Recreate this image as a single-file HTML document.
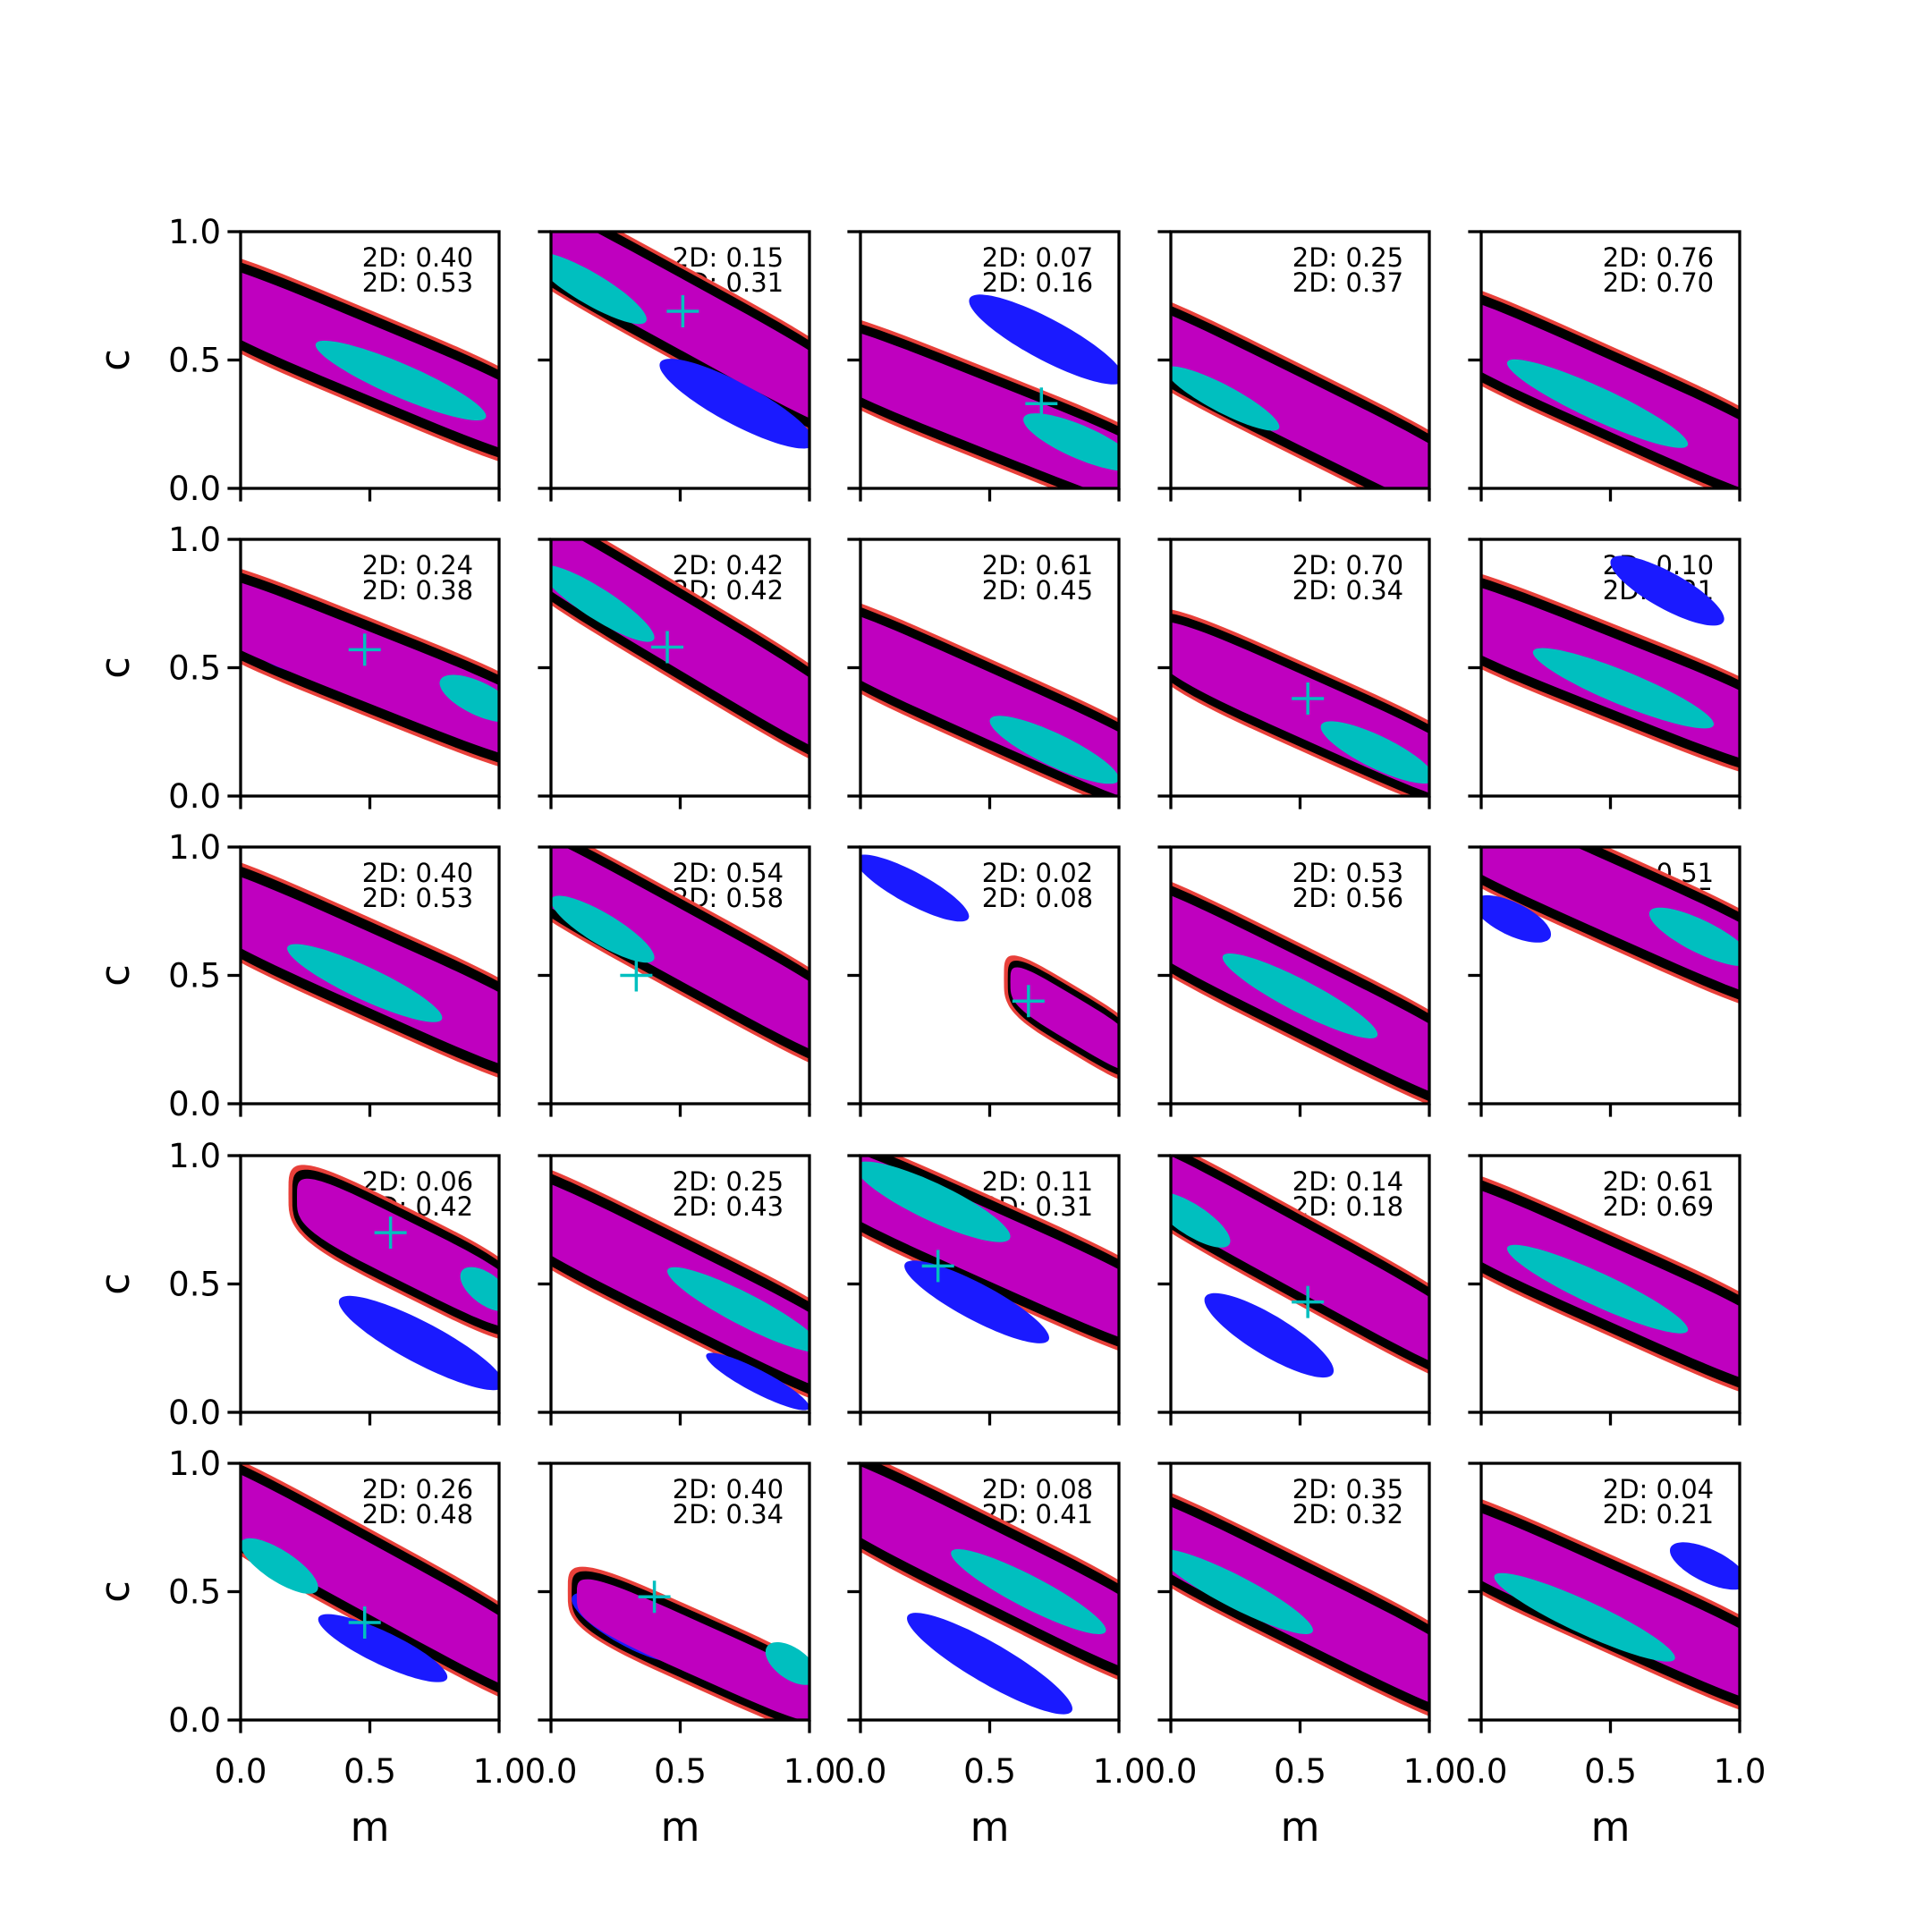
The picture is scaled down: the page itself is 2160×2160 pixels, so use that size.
<!DOCTYPE html>
<html><head><meta charset="utf-8"><style>
html,body{margin:0;padding:0;background:#fff;}
svg{display:block;font-family:"DejaVu Sans","Liberation Sans",sans-serif;}
</style></head><body>
<svg id="fig" width="2160" height="2160" viewBox="0 0 2160 2160" xmlns="http://www.w3.org/2000/svg"></svg>
<script>
// band: [m0, c0, halfLength(m), halfWidth(c), slope]
const bands = [
[0.5,0.5,0.75,0.18,-0.42],[0.5,0.68,0.75,0.18,-0.55],[0.5,0.28,0.75,0.17,-0.4],[0.5,0.3,0.75,0.17,-0.5],[0.5,0.36,0.75,0.18,-0.45],
[0.5,0.5,0.75,0.18,-0.4],[0.5,0.63,0.75,0.18,-0.6],[0.5,0.35,0.75,0.17,-0.45],[0.55,0.33,0.65,0.16,-0.45],[0.5,0.48,0.75,0.18,-0.4],
[0.5,0.52,0.75,0.19,-0.45],[0.5,0.62,0.75,0.18,-0.55],[0.82,0.33,0.25,0.12,-0.6],[0.5,0.43,0.75,0.18,-0.5],[0.5,0.8,0.75,0.18,-0.45],
[0.65,0.62,0.45,0.16,-0.5],[0.5,0.5,0.75,0.19,-0.5],[0.5,0.65,0.75,0.18,-0.45],[0.5,0.6,0.75,0.17,-0.55],[0.5,0.5,0.75,0.19,-0.45],
[0.5,0.55,0.75,0.18,-0.55],[0.58,0.27,0.5,0.14,-0.45],[0.5,0.6,0.75,0.19,-0.5],[0.5,0.45,0.75,0.18,-0.5],[0.5,0.45,0.75,0.18,-0.45]];
// cyan core: [m, c, halfLength, halfWidth]
const cores = [
[0.62,0.42,0.33,0.07],[0.15,0.78,0.22,0.07],[0.85,0.18,0.22,0.07],[0.2,0.35,0.22,0.06],[0.45,0.33,0.35,0.07],
[0.92,0.38,0.15,0.07],[0.18,0.75,0.22,0.07],[0.75,0.18,0.25,0.07],[0.8,0.17,0.22,0.07],[0.55,0.42,0.35,0.07],
[0.48,0.47,0.3,0.07],[0.2,0.68,0.2,0.07],null,[0.5,0.42,0.3,0.07],[0.85,0.65,0.2,0.07],
[0.95,0.48,0.1,0.07],[0.75,0.4,0.3,0.07],[0.28,0.82,0.3,0.08],[0.08,0.75,0.15,0.07],[0.45,0.48,0.35,0.07],
[0.15,0.6,0.15,0.07],[0.93,0.22,0.1,0.07],[0.65,0.5,0.3,0.07],[0.25,0.5,0.3,0.07],[0.4,0.4,0.35,0.07]];
// blue cloud: [m, c, halfLength, halfWidth, slope]
const blues = [
null,[0.72,0.33,0.3,0.09,-0.5],[0.72,0.58,0.3,0.09,-0.5],null,null,
[0.15,0.58,0.18,0.08,-0.4],null,null,null,[0.72,0.8,0.22,0.08,-0.5],
null,null,[0.2,0.84,0.22,0.07,-0.5],null,[0.12,0.72,0.15,0.07,-0.4],
[0.7,0.27,0.32,0.09,-0.5],[0.8,0.12,0.2,0.05,-0.5],[0.45,0.43,0.28,0.08,-0.5],[0.38,0.3,0.25,0.09,-0.55],null,
[0.55,0.28,0.25,0.07,-0.45],[0.3,0.36,0.22,0.08,-0.5],[0.5,0.22,0.32,0.09,-0.55],null,[0.88,0.6,0.15,0.07,-0.4]];
// cross markers [m, c]
const crosses = [
null,[0.51,0.69],[0.7,0.33],null,null,
[0.48,0.57],[0.45,0.58],null,[0.53,0.38],null,
null,[0.33,0.5],[0.65,0.4],null,null,
[0.58,0.7],null,[0.3,0.57],[0.53,0.43],null,
[0.48,0.38],[0.4,0.48],null,null,null];
const topVals = ["0.40","0.15","0.07","0.25","0.76","0.24","0.42","0.61","0.70","0.10","0.40","0.54","0.02","0.53","0.51","0.06","0.25","0.11","0.14","0.61","0.26","0.40","0.08","0.35","0.04"];
const botVals = ["0.53","0.31","0.16","0.37","0.70","0.38","0.42","0.45","0.34","0.21","0.53","0.58","0.08","0.56","0.55","0.42","0.43","0.31","0.18","0.69","0.48","0.34","0.41","0.32","0.21"];
const ticks = [0, 0.5, 1.0];
const tickLabels = ["0.0","0.5","1.0"];

const NS = "http://www.w3.org/2000/svg";
const svg = document.getElementById('fig');
const colL = [269,616,962,1309,1656], rowT = [259,603,947,1292,1636], AW = 289, AH = 287;
function mk(tag, attrs, parent){const e=document.createElementNS(NS,tag);for(const k in attrs)e.setAttribute(k,attrs[k]);(parent||svg).appendChild(e);return e;}
const defs = mk('defs',{});

function shape(g, xf, yf, m0, c0, L, W, s, p, color, name){
  const pts=[];
  for(let i=0;i<96;i++){
    const t=i/96*2*Math.PI, ct=Math.cos(t), st=Math.sin(t);
    const a=Math.sign(ct)*Math.pow(Math.abs(ct),2/p), b=Math.sign(st)*Math.pow(Math.abs(st),2/p);
    const m=m0+L*a, c=c0+s*L*a+W*b;
    pts.push(xf(m).toFixed(1)+','+yf(c).toFixed(1));
  }
  const e=mk('polygon',{points:pts.join(' '),fill:color},g);
  
  
}

for(let i=0;i<25;i++){
  const r=Math.floor(i/5), col=i%5, L0=colL[col], T0=rowT[r];
  const xf=m=>L0+m*AW, yf=c=>T0+AH-c*AH;
  const ax=mk('g',{});
  
  
  const cp=mk('clipPath',{id:'cp'+i},defs);
  mk('rect',{x:L0,y:T0,width:AW,height:AH},cp);
  const pg=mk('g',{'clip-path':'url(#cp'+i+')'},ax);
  const t1=mk('text',{x:L0+0.9*AW,y:T0+39,'font-size':29,'text-anchor':'end',fill:'#000'},pg);
  t1.textContent='2D: '+topVals[i];
  
  
  const t2=mk('text',{x:L0+0.9*AW,y:T0+67,'font-size':29,'text-anchor':'end',fill:'#000'},pg);
  t2.textContent='2D: '+botVals[i];
  
  
  const b=bands[i];
  shape(pg,xf,yf,b[0],b[1],b[2]+0.015,b[3]+0.015,b[4],4,'#e8403a','red-band');
  shape(pg,xf,yf,b[0],b[1],b[2],b[3],b[4],4,'#000','black-band');
  const bl=blues[i];
  if(bl) shape(pg,xf,yf,bl[0],bl[1],bl[2],bl[3],bl[4],2,'#1a1aff','blue-cloud');
  shape(pg,xf,yf,b[0],b[1],b[2]*0.96,b[3]*0.78,b[4],4,'#bf00bf','magenta-band');
  const co=cores[i];
  if(co) shape(pg,xf,yf,co[0],co[1],co[2],co[3],b[4],2,'#00bfbf','cyan-core');
  const cr=crosses[i];
  if(cr){
    const cx=xf(cr[0]), cy=yf(cr[1]);
    const h=mk('path',{d:`M${cx-18},${cy}H${cx+18}M${cx},${cy-18}V${cy+18}`,stroke:'#00bfbf','stroke-width':3.5,fill:'none'},pg);
    
    
  }
  const fr=mk('rect',{x:L0,y:T0,width:AW,height:AH,fill:'none',stroke:'#000','stroke-width':3.3},ax);
  
  
  ticks.forEach((v,k)=>{
    mk('line',{x1:xf(v),x2:xf(v),y1:T0+AH,y2:T0+AH+14.6,stroke:'#000','stroke-width':3.3},ax);
    mk('line',{x1:L0,x2:L0-14.6,y1:yf(v),y2:yf(v),stroke:'#000','stroke-width':3.3},ax);
    if(col===0){
      const tl=mk('text',{x:L0-22,y:yf(v)+13,'font-size':37,'text-anchor':'end'},ax);
      tl.textContent=tickLabels[k];
      
      
    }
    if(r===4){
      const tl=mk('text',{x:xf(v),y:T0+AH+70,'font-size':37,'text-anchor':'middle'},ax);
      tl.textContent=tickLabels[k];
      
      
    }
  });
  if(col===0){
    const yl=mk('text',{x:0,y:0,'font-size':45,'text-anchor':'middle',transform:`translate(144,${T0+AH/2}) rotate(-90)`},ax);
    yl.textContent='c';
    
    
  }
  if(r===4){
    const xl=mk('text',{x:L0+AW/2,y:2058,'font-size':45,'text-anchor':'middle'},ax);
    xl.textContent='m';
    
    
  }
}
</script>
</body></html>
